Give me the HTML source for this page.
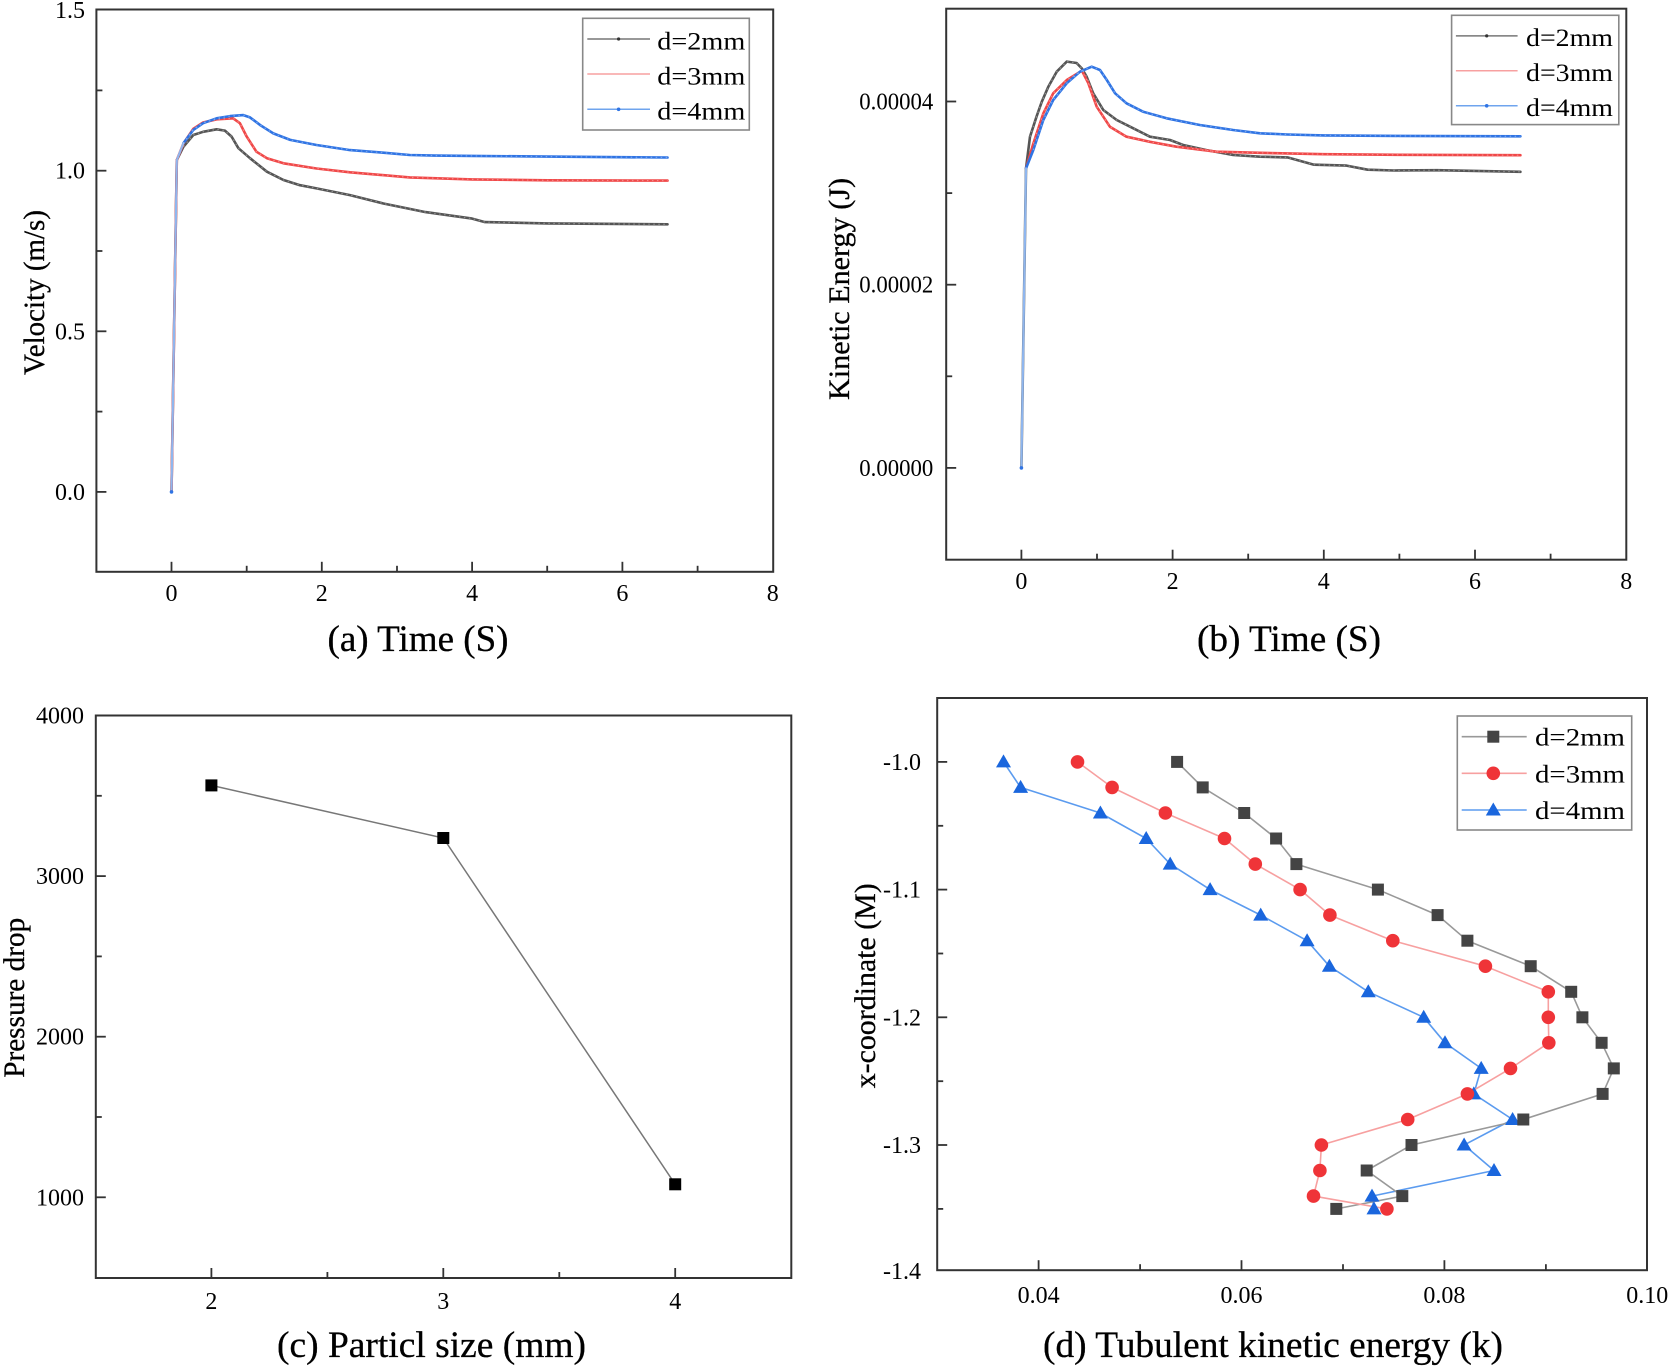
<!DOCTYPE html>
<html>
<head>
<meta charset="utf-8">
<style>
html,body{margin:0;padding:0;background:#fff;}
svg{display:block;}
text{font-family:"Liberation Serif","Times New Roman",serif;fill:#000;}
.tk{font-size:24px;}
.ax{font-size:30px;stroke:#000;stroke-width:0.3px;}
.ti{font-size:37px;stroke:#000;stroke-width:0.3px;}
.lg{font-size:25px;}
</style>
</head>
<body>
<svg width="1670" height="1369" viewBox="0 0 1670 1369" xmlns="http://www.w3.org/2000/svg">
<rect width="1670" height="1369" fill="#fff"/>

<!-- ================= PANEL A ================= -->
<g fill="none" stroke-linejoin="round" stroke-linecap="round">
<polyline stroke="#555" stroke-width="2.6" points="171.5,491.9 176.8,160.1 183.5,146.6 193.3,135.0 203.1,131.8 216.6,129.3 224.9,130.6 231.6,136.6 238.4,148.2 250.0,158.2 266.9,171.7 283.5,180.0 300.0,185.2 316.5,188.4 350.0,195.1 383.4,203.5 409.7,208.9 425.5,212.1 472.1,218.6 484.9,222.1 547.3,223.4 667.5,224.3"/>
<polyline stroke="#f04848" stroke-width="2.6" points="171.5,491.9 176.8,160.1 183.5,143.4 193.3,128.9 203.1,122.5 216.6,119.3 233.1,118.3 239.9,123.2 246.7,136.6 256.4,151.7 266.9,158.2 283.5,163.3 316.5,168.5 350.0,172.3 409.7,177.4 472.1,179.4 547.3,180.3 667.5,180.6"/>
<polyline stroke="#2f74e4" stroke-width="2.6" points="183.3,143.4 193.3,129.9 203.1,123.2 216.6,118.3 230.1,116.1 243.3,115.1 250.0,117.4 260.2,125.1 273.3,133.4 290.2,139.9 316.5,145.0 350.0,150.1 383.4,152.7 409.7,155.0 434.5,155.6 472.1,155.9 547.3,156.6 667.5,157.5"/>
<polyline stroke="#8fb6ee" stroke-width="2.2" points="171.5,491.9 176.8,160.1 183.3,143.4"/>
</g>
<g fill="none" stroke-dasharray="1.5 3.5" stroke-width="1.2" stroke="#fff" opacity="0.35">
<polyline points="183.5,146.6 193.3,135.0 203.1,131.8 216.6,129.3 224.9,130.6 231.6,136.6 238.4,148.2 250.0,158.2 266.9,171.7 283.5,180.0 300.0,185.2 316.5,188.4 350.0,195.1 383.4,203.5 409.7,208.9 425.5,212.1 472.1,218.6 484.9,222.1 547.3,223.4 667.5,224.3"/>
<polyline points="183.5,143.4 193.3,128.9 203.1,122.5 216.6,119.3 233.1,118.3 239.9,123.2 246.7,136.6 256.4,151.7 266.9,158.2 283.5,163.3 316.5,168.5 350.0,172.3 409.7,177.4 472.1,179.4 547.3,180.3 667.5,180.6"/>
<polyline points="183.3,143.4 193.3,129.9 203.1,123.2 216.6,118.3 230.1,116.1 243.3,115.1 250.0,117.4 260.2,125.1 273.3,133.4 290.2,139.9 316.5,145.0 350.0,150.1 383.4,152.7 409.7,155.0 434.5,155.6 472.1,155.9 547.3,156.6 667.5,157.5"/>
</g>
<circle cx="171.5" cy="491.9" r="1.8" fill="#2f74e4"/>
<!-- frame a -->
<rect x="96.4" y="9.5" width="676.8" height="562.3" fill="none" stroke="#333" stroke-width="2"/>
<g stroke="#333" stroke-width="1.8">
<line x1="171.5" y1="571.8" x2="171.5" y2="561.8"/>
<line x1="321.8" y1="571.8" x2="321.8" y2="561.8"/>
<line x1="472.1" y1="571.8" x2="472.1" y2="561.8"/>
<line x1="622.4" y1="571.8" x2="622.4" y2="561.8"/>
<line x1="246.7" y1="571.8" x2="246.7" y2="565.8"/>
<line x1="397.0" y1="571.8" x2="397.0" y2="565.8"/>
<line x1="547.2" y1="571.8" x2="547.2" y2="565.8"/>
<line x1="697.6" y1="571.8" x2="697.6" y2="565.8"/>
<line x1="96.4" y1="491.9" x2="106.4" y2="491.9"/>
<line x1="96.4" y1="331.3" x2="106.4" y2="331.3"/>
<line x1="96.4" y1="170.7" x2="106.4" y2="170.7"/>
<line x1="96.4" y1="411.6" x2="102.4" y2="411.6"/>
<line x1="96.4" y1="251.0" x2="102.4" y2="251.0"/>
<line x1="96.4" y1="90.4" x2="102.4" y2="90.4"/>
</g>
<g class="tk" text-anchor="middle">
<text x="171.5" y="601">0</text>
<text x="321.8" y="601">2</text>
<text x="472.1" y="601">4</text>
<text x="622.4" y="601">6</text>
<text x="772.7" y="601">8</text>
</g>
<g class="tk" text-anchor="end">
<text x="85" y="499.9">0.0</text>
<text x="85" y="339.3">0.5</text>
<text x="85" y="178.7">1.0</text>
<text x="85" y="18.1">1.5</text>
</g>
<text class="ax" transform="translate(44,292.5) rotate(-90)" text-anchor="middle" textLength="165" lengthAdjust="spacingAndGlyphs">Velocity (m/s)</text>
<text class="ti" x="327.5" y="651" textLength="181" lengthAdjust="spacingAndGlyphs">(a) Time (S)</text>
<!-- legend a -->
<rect x="582.7" y="18.3" width="166.6" height="111.7" fill="#fff" stroke="#888" stroke-width="1.6"/>
<line x1="587.3" y1="39" x2="650" y2="39" stroke="#777" stroke-width="1.5"/>
<circle cx="618.6" cy="39" r="1.6" fill="#333"/>
<line x1="587.3" y1="74" x2="650" y2="74" stroke="#f7a0a0" stroke-width="1.5"/>
<line x1="587.3" y1="109.3" x2="650" y2="109.3" stroke="#6fa4ee" stroke-width="1.5"/>
<circle cx="618.6" cy="109.3" r="1.8" fill="#2f74e4"/>
<text class="lg" x="657.3" y="49.3" textLength="88" lengthAdjust="spacingAndGlyphs">d=2mm</text>
<text class="lg" x="657.3" y="84.3" textLength="88" lengthAdjust="spacingAndGlyphs">d=3mm</text>
<text class="lg" x="657.3" y="119.6" textLength="88" lengthAdjust="spacingAndGlyphs">d=4mm</text>

<!-- ================= PANEL B ================= -->
<g fill="none" stroke-linejoin="round" stroke-linecap="round">
<polyline stroke="#555" stroke-width="2.6" points="1021.4,467.9 1026.0,168.4 1030.0,136.7 1036.5,116.7 1041.8,101.7 1048.3,86.8 1056.7,71.7 1066.8,61.6 1076.6,63.0 1081.9,68.5 1086.7,76.8 1093.2,93.3 1103.3,110.0 1116.7,120.0 1133.3,128.3 1149.9,136.7 1170.0,140.0 1183.2,145.0 1206.6,150.1 1233.1,155.0 1260.0,156.7 1287.5,157.4 1314.0,164.7 1346.5,165.6 1367.6,169.7 1394.1,170.5 1437.2,170.2 1520.4,171.8"/>
<polyline stroke="#f04848" stroke-width="2.6" points="1026.0,168.4 1033.3,143.6 1043.3,113.4 1053.2,93.3 1066.8,80.0 1081.9,70.7 1088.3,83.2 1096.7,106.7 1109.9,126.7 1126.5,136.7 1149.9,141.8 1176.4,146.7 1216.4,151.7 1260.0,152.8 1323.8,154.2 1399.4,154.8 1520.4,155.2"/>
<polyline stroke="#2f74e4" stroke-width="2.6" points="1026.0,168.4 1033.3,150.0 1043.3,120.0 1053.2,100.0 1066.8,83.2 1080.0,71.7 1091.7,66.7 1100.0,70.0 1106.8,80.0 1115.1,93.3 1126.5,103.3 1143.1,111.7 1166.6,118.3 1199.8,125.0 1233.1,130.0 1260.0,133.3 1287.5,134.5 1323.8,135.4 1399.4,135.9 1520.4,136.3"/>
<polyline stroke="#8fb6ee" stroke-width="2.2" points="1021.4,467.9 1026.0,168.4"/>
</g>
<g fill="none" stroke-dasharray="1.5 3.5" stroke-width="1.2" stroke="#fff" opacity="0.35">
<polyline points="1030.0,136.7 1036.5,116.7 1041.8,101.7 1048.3,86.8 1056.7,71.7 1066.8,61.6 1076.6,63.0 1081.9,68.5 1086.7,76.8 1093.2,93.3 1103.3,110.0 1116.7,120.0 1133.3,128.3 1149.9,136.7 1170.0,140.0 1183.2,145.0 1206.6,150.1 1233.1,155.0 1260.0,156.7 1287.5,157.4 1314.0,164.7 1346.5,165.6 1367.6,169.7 1394.1,170.5 1437.2,170.2 1520.4,171.8"/>
<polyline points="1033.3,143.6 1043.3,113.4 1053.2,93.3 1066.8,80.0 1081.9,70.7 1088.3,83.2 1096.7,106.7 1109.9,126.7 1126.5,136.7 1149.9,141.8 1176.4,146.7 1216.4,151.7 1260.0,152.8 1323.8,154.2 1399.4,154.8 1520.4,155.2"/>
<polyline points="1033.3,150.0 1043.3,120.0 1053.2,100.0 1066.8,83.2 1080.0,71.7 1091.7,66.7 1100.0,70.0 1106.8,80.0 1115.1,93.3 1126.5,103.3 1143.1,111.7 1166.6,118.3 1199.8,125.0 1233.1,130.0 1260.0,133.3 1287.5,134.5 1323.8,135.4 1399.4,135.9 1520.4,136.3"/>
</g>
<circle cx="1021.4" cy="467.9" r="1.8" fill="#2f74e4"/>
<rect x="946.2" y="8.7" width="680.1" height="551" fill="none" stroke="#333" stroke-width="2"/>
<g stroke="#333" stroke-width="1.8">
<line x1="1021.4" y1="559.7" x2="1021.4" y2="549.7"/>
<line x1="1172.6" y1="559.7" x2="1172.6" y2="549.7"/>
<line x1="1323.8" y1="559.7" x2="1323.8" y2="549.7"/>
<line x1="1475.0" y1="559.7" x2="1475.0" y2="549.7"/>
<line x1="1097.0" y1="559.7" x2="1097.0" y2="553.7"/>
<line x1="1248.2" y1="559.7" x2="1248.2" y2="553.7"/>
<line x1="1399.4" y1="559.7" x2="1399.4" y2="553.7"/>
<line x1="1550.6" y1="559.7" x2="1550.6" y2="553.7"/>
<line x1="946.2" y1="467.9" x2="956.2" y2="467.9"/>
<line x1="946.2" y1="284.7" x2="956.2" y2="284.7"/>
<line x1="946.2" y1="101.5" x2="956.2" y2="101.5"/>
<line x1="946.2" y1="376.3" x2="952.2" y2="376.3"/>
<line x1="946.2" y1="193.1" x2="952.2" y2="193.1"/>
</g>
<g class="tk" text-anchor="middle">
<text x="1021.4" y="589">0</text>
<text x="1172.6" y="589">2</text>
<text x="1323.8" y="589">4</text>
<text x="1475.0" y="589">6</text>
<text x="1626.2" y="589">8</text>
</g>
<g class="tk" text-anchor="end">
<text x="933.3" y="475.9" textLength="74" lengthAdjust="spacingAndGlyphs">0.00000</text>
<text x="933.3" y="292.7" textLength="74" lengthAdjust="spacingAndGlyphs">0.00002</text>
<text x="933.3" y="109.5" textLength="74" lengthAdjust="spacingAndGlyphs">0.00004</text>
</g>
<text class="ax" transform="translate(849,289) rotate(-90)" text-anchor="middle" textLength="222" lengthAdjust="spacingAndGlyphs">Kinetic Energy (J)</text>
<text class="ti" x="1197" y="651" textLength="184" lengthAdjust="spacingAndGlyphs">(b) Time (S)</text>
<rect x="1451.6" y="15.3" width="167.2" height="109.3" fill="#fff" stroke="#888" stroke-width="1.6"/>
<line x1="1455.9" y1="35.9" x2="1517.6" y2="35.9" stroke="#777" stroke-width="1.5"/>
<circle cx="1486.7" cy="35.9" r="1.6" fill="#333"/>
<line x1="1455.9" y1="70.8" x2="1517.6" y2="70.8" stroke="#f7a0a0" stroke-width="1.5"/>
<line x1="1455.9" y1="105.8" x2="1517.6" y2="105.8" stroke="#6fa4ee" stroke-width="1.5"/>
<circle cx="1486.7" cy="105.8" r="1.8" fill="#2f74e4"/>
<text class="lg" x="1526" y="45.9" textLength="87" lengthAdjust="spacingAndGlyphs">d=2mm</text>
<text class="lg" x="1526" y="80.8" textLength="87" lengthAdjust="spacingAndGlyphs">d=3mm</text>
<text class="lg" x="1526" y="115.8" textLength="87" lengthAdjust="spacingAndGlyphs">d=4mm</text>

<!-- ================= PANEL C ================= -->
<polyline fill="none" stroke="#777" stroke-width="1.5" points="211.4,785.4 443.3,838.0 675.2,1184.3"/>
<g fill="#000">
<rect x="205.4" y="779.4" width="12" height="12"/>
<rect x="437.3" y="832.0" width="12" height="12"/>
<rect x="669.2" y="1178.3" width="12" height="12"/>
</g>
<rect x="95.8" y="715.5" width="695.5" height="562.5" fill="none" stroke="#333" stroke-width="2"/>
<g stroke="#333" stroke-width="1.8">
<line x1="211.4" y1="1278" x2="211.4" y2="1268"/>
<line x1="443.3" y1="1278" x2="443.3" y2="1268"/>
<line x1="675.2" y1="1278" x2="675.2" y2="1268"/>
<line x1="327.4" y1="1278" x2="327.4" y2="1272"/>
<line x1="559.3" y1="1278" x2="559.3" y2="1272"/>
<line x1="95.8" y1="876.1" x2="105.8" y2="876.1"/>
<line x1="95.8" y1="1036.7" x2="105.8" y2="1036.7"/>
<line x1="95.8" y1="1197.3" x2="105.8" y2="1197.3"/>
<line x1="95.8" y1="795.8" x2="101.8" y2="795.8"/>
<line x1="95.8" y1="956.4" x2="101.8" y2="956.4"/>
<line x1="95.8" y1="1117.0" x2="101.8" y2="1117.0"/>
</g>
<g class="tk" text-anchor="middle">
<text x="211.4" y="1309">2</text>
<text x="443.3" y="1309">3</text>
<text x="675.2" y="1309">4</text>
</g>
<g class="tk" text-anchor="end">
<text x="84" y="1205.3" textLength="48" lengthAdjust="spacingAndGlyphs">1000</text>
<text x="84" y="1044.7" textLength="48" lengthAdjust="spacingAndGlyphs">2000</text>
<text x="84" y="884.1" textLength="48" lengthAdjust="spacingAndGlyphs">3000</text>
<text x="84" y="723.5" textLength="48" lengthAdjust="spacingAndGlyphs">4000</text>
</g>
<text class="ax" transform="translate(24,997.8) rotate(-90)" text-anchor="middle" textLength="160" lengthAdjust="spacingAndGlyphs">Pressure drop</text>
<text class="ti" x="277" y="1357" textLength="309" lengthAdjust="spacingAndGlyphs">(c) Particl size (mm)</text>

<!-- ================= PANEL D ================= -->
<g fill="none" stroke-width="1.6" stroke-linejoin="round">
<polyline stroke="#5b9bef" points="1003.5,761.9 1020.6,787.4 1100.4,813.0 1146.2,838.5 1170.2,864.1 1210.1,889.6 1260.7,915.1 1307.1,940.7 1329.4,966.2 1368.3,991.8 1423.7,1017.3 1445.0,1042.8 1481.2,1068.4 1473.8,1093.9 1512.6,1119.5 1464.1,1145.0 1494.0,1170.5 1372.0,1196.1 1374.0,1208.9"/>
<polyline stroke="#999" points="1177.1,761.9 1202.7,787.4 1244.2,813.0 1276.1,838.5 1296.4,864.1 1377.9,889.6 1437.6,915.1 1467.4,940.7 1530.7,966.2 1571.2,991.8 1582.4,1017.3 1601.6,1042.8 1613.8,1068.4 1602.6,1093.9 1523.3,1119.5 1411.5,1145.0 1366.7,1170.5 1402.3,1196.1 1336.3,1208.9"/>
<polyline stroke="#f7a0a0" points="1077.5,761.9 1112.1,787.4 1165.4,813.0 1224.5,838.5 1255.3,864.1 1300.1,889.6 1329.9,915.1 1392.8,940.7 1485.4,966.2 1548.3,991.8 1548.3,1017.3 1548.8,1042.8 1510.5,1068.4 1467.4,1093.9 1407.7,1119.5 1321.4,1145.0 1319.9,1170.5 1313.5,1196.1 1386.9,1208.9"/>
</g>
<!-- blue triangles -->
<g fill="#1a66dd">
<polygon points="1003.5,754.4 996.0,767.4 1011.0,767.4"/>
<polygon points="1020.6,779.9 1013.1,792.9 1028.1,792.9"/>
<polygon points="1100.4,805.5 1092.9,818.5 1107.9,818.5"/>
<polygon points="1146.2,831.0 1138.7,844.0 1153.7,844.0"/>
<polygon points="1170.2,856.6 1162.7,869.6 1177.7,869.6"/>
<polygon points="1210.1,882.1 1202.6,895.1 1217.6,895.1"/>
<polygon points="1260.7,907.6 1253.2,920.6 1268.2,920.6"/>
<polygon points="1307.1,933.2 1299.6,946.2 1314.6,946.2"/>
<polygon points="1329.4,958.7 1321.9,971.7 1336.9,971.7"/>
<polygon points="1368.3,984.3 1360.8,997.3 1375.8,997.3"/>
<polygon points="1423.7,1009.8 1416.2,1022.8 1431.2,1022.8"/>
<polygon points="1445.0,1035.3 1437.5,1048.3 1452.5,1048.3"/>
<polygon points="1481.2,1060.9 1473.7,1073.9 1488.7,1073.9"/>
<polygon points="1473.8,1086.4 1466.3,1099.4 1481.3,1099.4"/>
<polygon points="1512.6,1112.0 1505.1,1125.0 1520.1,1125.0"/>
<polygon points="1464.1,1137.5 1456.6,1150.5 1471.6,1150.5"/>
<polygon points="1494.0,1163.0 1486.5,1176.0 1501.5,1176.0"/>
<polygon points="1372.0,1188.6 1364.5,1201.6 1379.5,1201.6"/>
<polygon points="1374.0,1201.4 1366.5,1214.4 1381.5,1214.4"/>
</g>
<!-- black squares -->
<g fill="#444">
<rect x="1171.1" y="755.9" width="12" height="12"/>
<rect x="1196.7" y="781.4" width="12" height="12"/>
<rect x="1238.2" y="807.0" width="12" height="12"/>
<rect x="1270.1" y="832.5" width="12" height="12"/>
<rect x="1290.4" y="858.1" width="12" height="12"/>
<rect x="1371.9" y="883.6" width="12" height="12"/>
<rect x="1431.6" y="909.1" width="12" height="12"/>
<rect x="1461.4" y="934.7" width="12" height="12"/>
<rect x="1524.7" y="960.2" width="12" height="12"/>
<rect x="1565.2" y="985.8" width="12" height="12"/>
<rect x="1576.4" y="1011.3" width="12" height="12"/>
<rect x="1595.6" y="1036.8" width="12" height="12"/>
<rect x="1607.8" y="1062.4" width="12" height="12"/>
<rect x="1596.6" y="1087.9" width="12" height="12"/>
<rect x="1517.3" y="1113.5" width="12" height="12"/>
<rect x="1405.5" y="1139.0" width="12" height="12"/>
<rect x="1360.7" y="1164.5" width="12" height="12"/>
<rect x="1396.3" y="1190.1" width="12" height="12"/>
<rect x="1330.3" y="1202.9" width="12" height="12"/>
</g>
<!-- red circles -->
<g fill="#ef3438">
<circle cx="1077.5" cy="761.9" r="6.8"/>
<circle cx="1112.1" cy="787.4" r="6.8"/>
<circle cx="1165.4" cy="813.0" r="6.8"/>
<circle cx="1224.5" cy="838.5" r="6.8"/>
<circle cx="1255.3" cy="864.1" r="6.8"/>
<circle cx="1300.1" cy="889.6" r="6.8"/>
<circle cx="1329.9" cy="915.1" r="6.8"/>
<circle cx="1392.8" cy="940.7" r="6.8"/>
<circle cx="1485.4" cy="966.2" r="6.8"/>
<circle cx="1548.3" cy="991.8" r="6.8"/>
<circle cx="1548.3" cy="1017.3" r="6.8"/>
<circle cx="1548.8" cy="1042.8" r="6.8"/>
<circle cx="1510.5" cy="1068.4" r="6.8"/>
<circle cx="1467.4" cy="1093.9" r="6.8"/>
<circle cx="1407.7" cy="1119.5" r="6.8"/>
<circle cx="1321.4" cy="1145.0" r="6.8"/>
<circle cx="1319.9" cy="1170.5" r="6.8"/>
<circle cx="1313.5" cy="1196.1" r="6.8"/>
<circle cx="1386.9" cy="1208.9" r="6.8"/>
</g>
<rect x="937.2" y="698" width="709.8" height="572.2" fill="none" stroke="#333" stroke-width="2"/>
<g stroke="#333" stroke-width="1.8">
<line x1="1038.6" y1="1270.2" x2="1038.6" y2="1260.2"/>
<line x1="1241.5" y1="1270.2" x2="1241.5" y2="1260.2"/>
<line x1="1444.4" y1="1270.2" x2="1444.4" y2="1260.2"/>
<line x1="1140.1" y1="1270.2" x2="1140.1" y2="1264.2"/>
<line x1="1343.0" y1="1270.2" x2="1343.0" y2="1264.2"/>
<line x1="1545.9" y1="1270.2" x2="1545.9" y2="1264.2"/>
<line x1="937.2" y1="761.9" x2="947.2" y2="761.9"/>
<line x1="937.2" y1="889.6" x2="947.2" y2="889.6"/>
<line x1="937.2" y1="1017.3" x2="947.2" y2="1017.3"/>
<line x1="937.2" y1="1145.0" x2="947.2" y2="1145.0"/>
<line x1="937.2" y1="825.8" x2="943.2" y2="825.8"/>
<line x1="937.2" y1="953.5" x2="943.2" y2="953.5"/>
<line x1="937.2" y1="1081.2" x2="943.2" y2="1081.2"/>
<line x1="937.2" y1="1208.9" x2="943.2" y2="1208.9"/>
</g>
<g class="tk" text-anchor="middle">
<text x="1038.6" y="1303">0.04</text>
<text x="1241.5" y="1303">0.06</text>
<text x="1444.4" y="1303">0.08</text>
<text x="1647.3" y="1303">0.10</text>
</g>
<g class="tk" text-anchor="end">
<text x="921" y="769.9">-1.0</text>
<text x="921" y="897.6">-1.1</text>
<text x="921" y="1025.3">-1.2</text>
<text x="921" y="1153.0">-1.3</text>
<text x="921" y="1279.0">-1.4</text>
</g>
<text class="ax" transform="translate(875,985.8) rotate(-90)" text-anchor="middle" textLength="205" lengthAdjust="spacingAndGlyphs">x-coordinate (M)</text>
<text class="ti" x="1043" y="1357" textLength="460" lengthAdjust="spacingAndGlyphs">(d) Tubulent kinetic energy (k)</text>
<!-- legend d -->
<rect x="1457.3" y="716" width="174.4" height="114" fill="#fff" stroke="#888" stroke-width="1.6"/>
<line x1="1461.7" y1="736.7" x2="1526.7" y2="736.7" stroke="#999" stroke-width="1.6"/>
<rect x="1487.3" y="730.7" width="12" height="12" fill="#444"/>
<line x1="1461.7" y1="773.3" x2="1526.7" y2="773.3" stroke="#f7a0a0" stroke-width="1.6"/>
<circle cx="1493.3" cy="773.3" r="6.8" fill="#ef3438"/>
<line x1="1461.7" y1="810" x2="1526.7" y2="810" stroke="#5b9bef" stroke-width="1.6"/>
<polygon points="1493.3,802.5 1485.8,815.5 1500.8,815.5" fill="#1a66dd"/>
<text class="lg" x="1535" y="745.7" textLength="90" lengthAdjust="spacingAndGlyphs">d=2mm</text>
<text class="lg" x="1535" y="782.3" textLength="90" lengthAdjust="spacingAndGlyphs">d=3mm</text>
<text class="lg" x="1535" y="819" textLength="90" lengthAdjust="spacingAndGlyphs">d=4mm</text>
</svg>
</body>
</html>
